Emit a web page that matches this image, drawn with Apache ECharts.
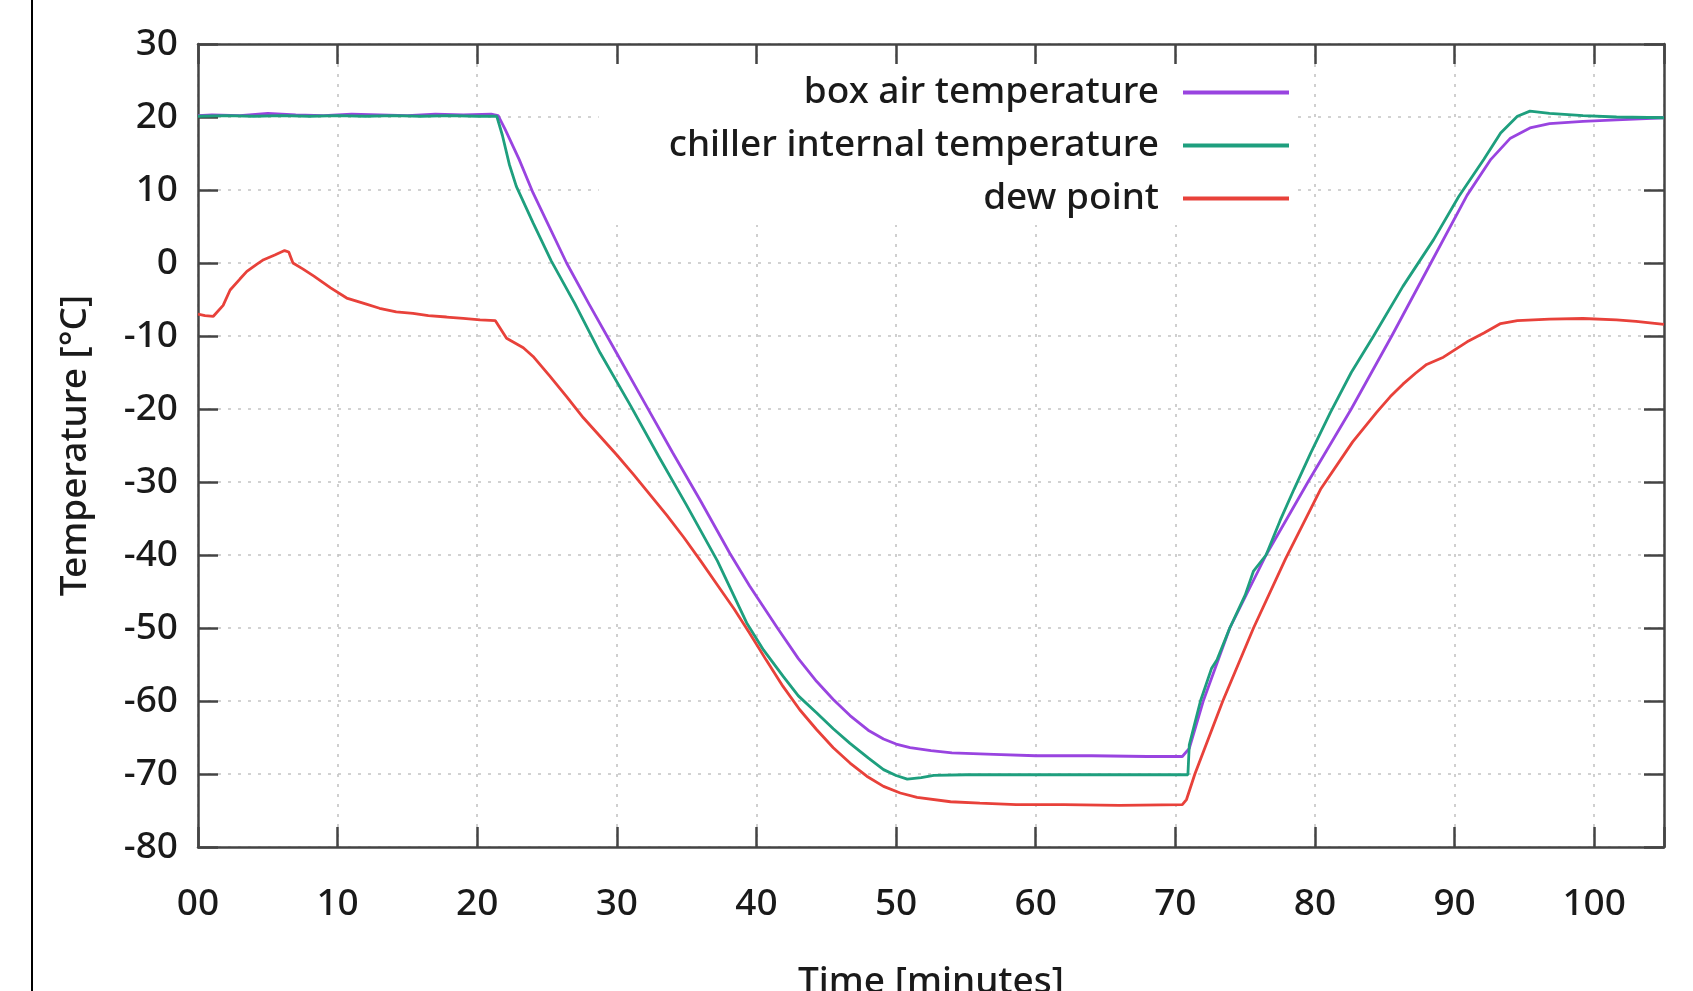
<!DOCTYPE html>
<html>
<head>
<meta charset="utf-8">
<script src="https://cdn.jsdelivr.net/npm/echarts@6/dist/echarts.min.js"></script>
<style>
html,body{margin:0;padding:0;background:#fff;}
#chart{width:1693px;height:991px;}
</style>
</head>
<body>
<div id="chart"></div>
<script>
// ---- data ----
const seriesNames = ['box air temperature', 'chiller internal temperature', 'dew point'];

const boxTime = [0, 1, 3, 5, 7, 9, 11, 13, 15, 17, 19, 21, 21.5, 22, 23, 24, 25, 26.4, 28, 30, 32, 34, 36, 38.1, 39.5, 41.5, 43, 44.3, 45.5, 46.7, 48, 49.1, 50, 51, 52.5, 54, 57, 60, 64, 68, 70.5, 71, 72, 73.9, 76.5, 79.5, 82.6, 85.5, 88.3, 90.9, 92.6, 94, 95.4, 96.8, 99.2, 101.6, 105];
const boxTemp = [20.2, 20.3, 20.2, 20.5, 20.3, 20.2, 20.4, 20.3, 20.2, 20.4, 20.3, 20.4, 20.2, 18.3, 14.2, 9.6, 5.6, 0, -5.6, -12.4, -19.2, -26, -32.6, -39.8, -44.2, -50, -54.2, -57.3, -59.8, -62, -64, -65.2, -65.9, -66.4, -66.8, -67.1, -67.3, -67.5, -67.5, -67.6, -67.6, -66.5, -60, -50, -40, -30, -20, -10, 0, 9.3, 14.2, 17.1, 18.5, 19.1, 19.4, 19.6, 19.9];

const chillerTime = [0, 2, 4, 6, 8, 10, 12, 14, 16, 18, 20, 21.4, 21.8, 22.3, 22.8, 24, 25.3, 27, 28.8, 31, 33, 35, 37.2, 39.3, 40.5, 41.9, 43, 44.3, 45.5, 46.7, 48, 49.1, 50, 50.8, 51.8, 52.7, 55, 60, 65, 70, 70.9, 71.0, 71.8, 72.6, 73, 73.9, 75, 75.6, 76.5, 77.5, 78.5, 79.7, 81.1, 82.6, 84.2, 86.3, 88.5, 90.3, 92.1, 93.3, 94.5, 95.4, 96.8, 99.2, 101.6, 105];
const chillerTemp = [20.1, 20.2, 20.1, 20.2, 20.1, 20.2, 20.1, 20.2, 20.1, 20.2, 20.1, 20.1, 17.5, 13.5, 10.5, 5.5, 0.3, -5.6, -12.3, -19.6, -26.5, -33.2, -40.8, -49.3, -53, -56.6, -59.3, -61.6, -63.8, -65.8, -67.8, -69.4, -70.2, -70.7, -70.5, -70.2, -70.1, -70.1, -70.1, -70.1, -70.1, -66, -60, -55.5, -54.3, -50, -45.5, -42.2, -40, -35.3, -31, -26, -20.5, -15, -10, -3.2, 3.2, 9.1, 14.2, 17.8, 20.1, 20.8, 20.5, 20.2, 20.0, 19.9];

const dewTime = [0, 0.5, 1.1, 1.8, 2.3, 3, 3.5, 4.2, 4.7, 5.5, 6.2, 6.5, 6.8, 7.5, 8.3, 9.5, 10.65, 12, 13, 14.2, 15.4, 16.5, 17.8, 19, 20.2, 21.3, 22.1, 23.3, 24, 25.2, 26.4, 27.6, 30, 31.2, 32.4, 33.6, 34.8, 36, 37.2, 38.4, 39.5, 40.7, 41.9, 43.1, 44.3, 45.5, 46.7, 47.9, 49.1, 50.3, 51.5, 53.9, 56, 58.6, 62, 66, 70.5, 70.8, 71.4, 73.4, 75.6, 77.9, 80.4, 82.7, 84.4, 85.4, 86.3, 87.2, 88, 89.2, 90.9, 92.1, 93.3, 94.5, 96.8, 99.2, 101.6, 103, 105];
const dewTemp = [-7.0, -7.2, -7.3, -5.8, -3.7, -2.2, -1.15, -0.2, 0.45, 1.1, 1.7, 1.5, 0.0, -0.8, -1.8, -3.4, -4.8, -5.6, -6.2, -6.7, -6.9, -7.2, -7.4, -7.6, -7.8, -7.9, -10.3, -11.6, -12.8, -15.5, -18.3, -21.2, -26.3, -29, -31.8, -34.6, -37.6, -40.8, -44.1, -47.4, -50.7, -54.4, -58, -61.2, -63.9, -66.4, -68.5, -70.3, -71.7, -72.6, -73.2, -73.8, -74.0, -74.2, -74.2, -74.3, -74.2, -73.5, -70, -60, -50, -40.5, -31, -24.5, -20.5, -18.3, -16.6, -15.1, -13.9, -12.9, -10.8, -9.6, -8.3, -7.9, -7.7, -7.6, -7.8, -8.0, -8.4];

const xTickLabels = ['00', '10', '20', '30', '40', '50', '60', '70', '80', '90', '100'];
const xTitle = 'Time [minutes]';
const yTitle = 'Temperature [°C]';

// ---- styling ----
const colors = ['#9944E0', '#1E9F7E', '#E8413A'];
const font = 'Noto Sans';
const fs = 37;
const fw = 500;
const textColor = '#1a1a1a';
const axisColor = '#444';
const gridLine = { show: true, lineStyle: { color: '#c4c4c4', width: 1.6, type: [3, 7] } };

function pairs(ts, vs) { return ts.map((t, i) => [t, vs[i]]); }

const tickStyle = { show: true, inside: true, length: 20, lineStyle: { color: axisColor, width: 2.5 } };
const lineStyleAxis = { show: true, onZero: false, lineStyle: { color: axisColor, width: 2.5 } };

const chart = echarts.init(document.getElementById('chart'), null, { renderer: 'canvas' });
chart.setOption({
  animation: false,
  backgroundColor: '#fff',
  textStyle: { fontFamily: font },
  graphic: [{
    type: 'line', z: 100,
    shape: { x1: 32, y1: 0, x2: 32, y2: 991 },
    style: { stroke: '#000', lineWidth: 2 }
  }],
  grid: { left: 198, top: 44, width: 1466, height: 803, containLabel: false, outerBoundsMode: 'none' },
  legend: {
    data: seriesNames,
    orient: 'vertical',
    align: 'right',
    right: 396,
    top: 64,
    itemWidth: 106,
    itemHeight: 4,
    itemGap: 0,
    icon: 'rect',
    backgroundColor: '#fff',
    padding: [2, 8, 0, 70],
    textStyle: { fontFamily: font, fontSize: fs, fontWeight: fw, color: textColor, lineHeight: 53, padding: [0, 19, 0, 0] }
  },
  xAxis: [{
    type: 'value', position: 'bottom', min: 0, max: 105, interval: 10,
    axisLine: lineStyleAxis, axisTick: tickStyle,
    splitLine: gridLine,
    axisLabel: {
      margin: 38, fontSize: fs, fontWeight: fw, color: textColor, fontFamily: font, lineHeight: 38,
      formatter: v => { const i = Math.round(v / 10); return (v % 10 === 0 && i < xTickLabels.length) ? xTickLabels[i] : ''; }
    },
    name: xTitle, nameLocation: 'middle', nameGap: 116,
    nameTextStyle: { fontSize: fs, fontWeight: fw, color: textColor, fontFamily: font, lineHeight: 38 }
  }, {
    type: 'value', position: 'top', min: 0, max: 105, interval: 10,
    axisLine: lineStyleAxis, axisTick: tickStyle, splitLine: { show: false }, axisLabel: { show: false }
  }],
  yAxis: [{
    type: 'value', position: 'left', min: -80, max: 30, interval: 10,
    axisLine: lineStyleAxis, axisTick: tickStyle,
    splitLine: gridLine,
    axisLabel: { margin: 20, fontSize: fs, fontWeight: fw, color: textColor, fontFamily: font },
    name: yTitle, nameLocation: 'middle', nameGap: 104, nameRotate: 90,
    nameTextStyle: { fontSize: fs, fontWeight: fw, color: textColor, fontFamily: font }
  }, {
    type: 'value', position: 'right', min: -80, max: 30, interval: 10,
    axisLine: lineStyleAxis, axisTick: tickStyle, splitLine: { show: false }, axisLabel: { show: false }
  }],
  series: [
    { name: seriesNames[0], type: 'line', data: pairs(boxTime, boxTemp), showSymbol: false, symbol: 'none', color: colors[0], lineStyle: { width: 2.8, color: colors[0] }, z: 3 },
    { name: seriesNames[1], type: 'line', data: pairs(chillerTime, chillerTemp), showSymbol: false, symbol: 'none', color: colors[1], lineStyle: { width: 2.8, color: colors[1] }, z: 3 },
    { name: seriesNames[2], type: 'line', data: pairs(dewTime, dewTemp), showSymbol: false, symbol: 'none', color: colors[2], lineStyle: { width: 2.8, color: colors[2] }, z: 3 }
  ]
});
</script>
</body>
</html>
